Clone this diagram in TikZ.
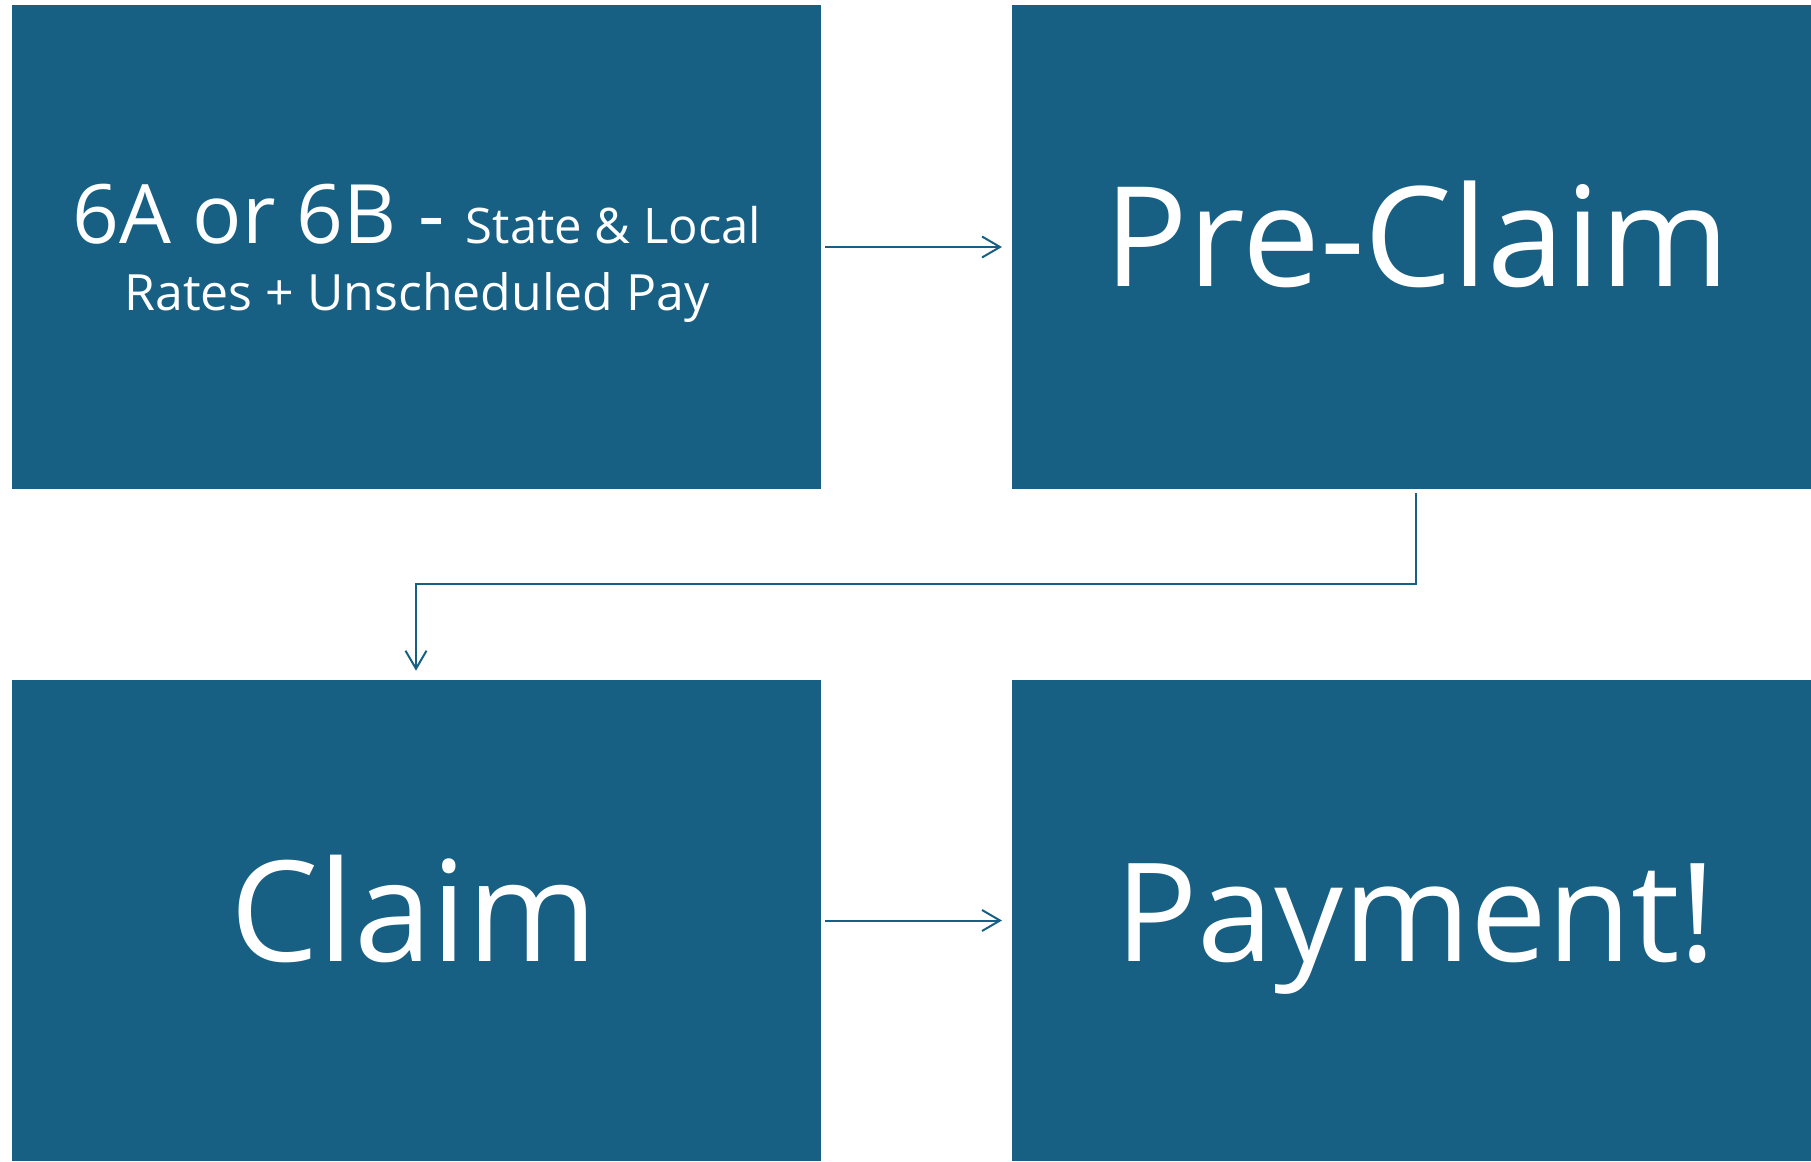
\documentclass[tikz,border=0pt]{standalone}
\usepackage{fontspec}
\setmainfont{Open Sans}
\usetikzlibrary{arrows.meta}
\definecolor{boxblue}{RGB}{23,96,131}
\tikzset{
  box/.style={fill=boxblue, draw=none, inner sep=0pt, outer sep=0pt},
  lbl/.style={text=white, anchor=base, inner sep=0pt},
  arr/.style={draw=boxblue, line width=2pt, -{Straight Barb[length=18pt,width=21pt,line width=2pt]}}
}
\newcommand{\bigtxt}[1]{\fontsize{#1}{#1}\selectfont\ignorespaces}
\begin{document}
\begin{tikzpicture}[x=1pt,y=-1pt]
\useasboundingbox (0,0) rectangle (1811,1161);
\node[box, minimum width=809pt, minimum height=483pt] (b1) at (416,247) {};
\node[box, minimum width=799pt, minimum height=483pt] (b2) at (1411.5,247) {};
\node[box, minimum width=809pt, minimum height=481pt] (b3) at (416,920.5) {};
\node[box, minimum width=799pt, minimum height=481pt] (b4) at (1411.5,920.5) {};
% labels
\node[lbl] (t1a) at (417,243) {{\fontsize{82}{82}\selectfont 6A or 6B - }{\fontsize{49}{49}\selectfont State \& Local}};
\node[lbl] (t1b) at (417,310) {\fontsize{50}{50}\selectfont Rates + Unscheduled Pay};
\node[lbl] (t2) at (1417,286.7) {\bigtxt{139}Pre-Claim};
\node[lbl] (t3) at (414,961.7) {\bigtxt{140}Claim};
\node[lbl] (t4) at (1416,961.7) {\bigtxt{137}Payment!};
% connectors
\coordinate (m) at (0,584);
\draw[arr, shorten <=4.5pt, shorten >=10pt] (b1.east) -- (b2.west);
\draw[arr, shorten <=4.5pt, shorten >=10pt] (b3.east) -- (b4.west);
\draw[arr, shorten <=4.5pt, shorten >=9.3pt] ([xshift=4.5pt]b2.south) |- (m -| b3.north) -- (b3.north);
\end{tikzpicture}
\end{document}
